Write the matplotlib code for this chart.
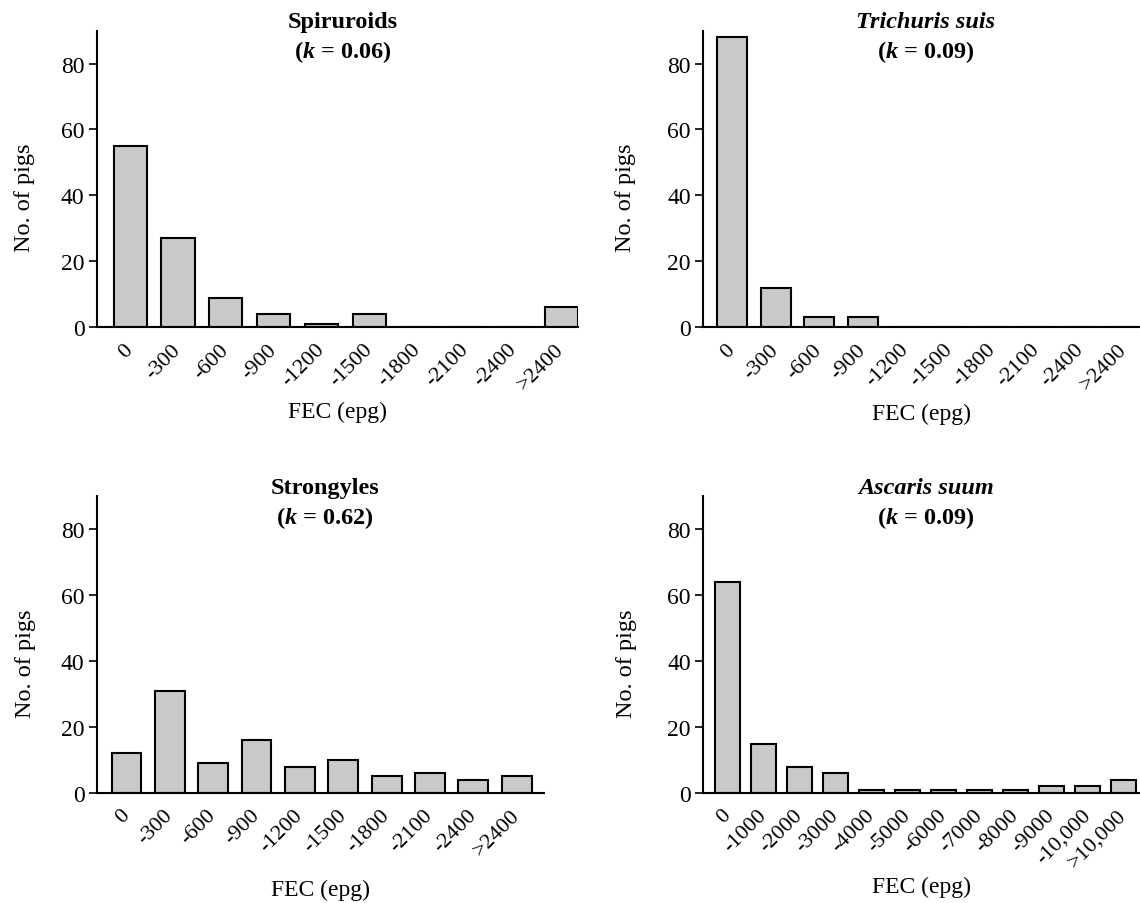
import matplotlib.pyplot as plt

plt.rcParams['font.family'] = 'Liberation Serif'
plt.rcParams['mathtext.fontset'] = 'custom'
plt.rcParams['mathtext.it'] = 'Liberation Serif:italic:bold'
plt.rcParams['mathtext.rm'] = 'Liberation Serif:bold'

# FEC classes (epg)
labels_300 = ['0', '-300', '-600', '-900', '-1200', '-1500', '-1800', '-2100', '-2400', '>2400']
labels_1000 = ['0', '-1000', '-2000', '-3000', '-4000', '-5000', '-6000', '-7000', '-8000',
               '-9000', '-10,000', '>10,000']

# number of pigs in each class
spiruroids = [55, 27, 9, 4, 1, 4, 0, 0, 0, 6]
trichuris = [88, 12, 3, 3, 0, 0, 0, 0, 0, 0]
strongyles = [12, 31, 9, 16, 8, 10, 5, 6, 4, 5]
ascaris = [64, 15, 8, 6, 1, 1, 1, 1, 1, 2, 2, 4]

fig = plt.figure(figsize=(11.4, 9.04), dpi=100)

# name, italic?, k, counts, labels, axes rect, xlim, xlabel y, ylabel x
panels = [
    ('Spiruroids', False, '0.06', spiruroids, labels_300,
     [0.0851, 0.637, 0.422, 0.328], (-0.69, 9.35), -0.25, -0.128),
    ('Trichuris suis', True, '0.09', trichuris, labels_300,
     [0.617, 0.637, 0.382, 0.328], (-0.66, 9.35), -0.255, -0.154),
    ('Strongyles', False, '0.62', strongyles, labels_300,
     [0.0851, 0.1217, 0.392, 0.3283], (-0.68, 9.63), -0.29, -0.136),
    ('Ascaris suum', True, '0.09', ascaris, labels_1000,
     [0.617, 0.1217, 0.383, 0.3283], (-0.67, 11.45), -0.28, -0.151),
]

for name, ital, k, counts, labels, rect, xl, xly, yly in panels:
    ax = fig.add_axes(rect)
    x = list(range(len(counts)))
    ax.bar(x, counts, width=0.69, color='#c9c9c9', edgecolor='black', linewidth=1.5)
    ax.set_xlim(*xl)
    ax.set_ylim(0, 90)
    ax.set_yticks([0, 20, 40, 60, 80])
    ax.tick_params(axis='y', labelsize=17, length=6, width=1.2, direction='out', pad=3)
    ax.set_xticks(x)
    ax.set_xticklabels(labels, rotation=45, ha='right', va='center',
                       rotation_mode='anchor', fontsize=16)
    ax.tick_params(axis='x', length=0, pad=14)
    for s in ['top', 'right']:
        ax.spines[s].set_visible(False)
    for s in ['left', 'bottom']:
        ax.spines[s].set_linewidth(1.5)
    ax.set_ylabel('No. of pigs', fontsize=17.5)
    ax.yaxis.set_label_coords(yly, 0.44)
    ax.set_xlabel('FEC (epg)', fontsize=17)
    ax.xaxis.set_label_coords(0.5, xly)
    ax.text(0.51, 1.03, name, transform=ax.transAxes, ha='center', va='center',
            fontsize=17.5, fontweight='bold', fontstyle='italic' if ital else 'normal')
    ax.text(0.51, 0.93, '($k$ = ' + k + ')', transform=ax.transAxes, ha='center',
            va='center', fontsize=17.5, fontweight='bold')

fig.savefig('out.png', dpi=100)
